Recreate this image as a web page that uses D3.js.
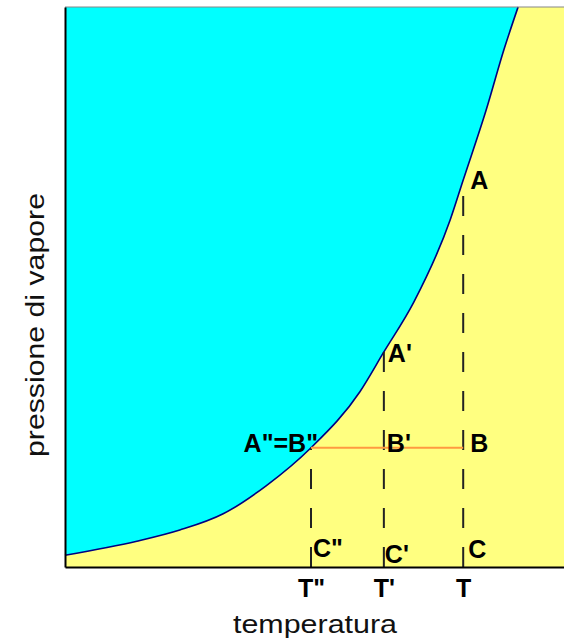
<!DOCTYPE html>
<html>
<head>
<meta charset="utf-8">
<script src="https://cdn.jsdelivr.net/npm/d3@7"></script>
<style>
  html, body { margin: 0; padding: 0; background: #fff; }
  svg { display: block; }
</style>
</head>
<body>
<div id="chart"></div>
<script>
// vapour pressure curve (temperature, pressure) in arbitrary units 0..100
const curveT = [0, 14.4, 23, 31.7, 40.3, 49.3, 59.1, 63.9, 69.9, 77.2, 79.8, 84.4, 88, 90.8];
const curveP = [2.1, 4.6, 6.6, 9.5, 14.5, 21.3, 31.3, 38.4, 47.3, 62, 69.1, 81.6, 92.5, 100];

// the three temperatures marked on the axis
const tickNames = ['T"', "T'", 'T'];
const tickTemps = [49.3, 63.9, 79.8];

// pressure read at each temperature on the curve (A labels) and the common level B
const pointNamesA = ['A"=B"', "A'", 'A'];
const pointPressA = [21.3, 38.4, 69.1];
const pointNamesB = ['', "B'", 'B'];
const levelB = 21.3;
const pointNamesC = ['C"', "C'", 'C'];

const xLabel = 'temperatura';
const yLabel = 'pressione di vapore';

const W = 564, H = 640;
let margin = {top: 7, right: 0, bottom: 73, left: 65};
let width = W - margin.left - margin.right;
let height = H - margin.top - margin.bottom;

let svg = d3.select('#chart')
    .append('svg')
    .attr('width', W)
    .attr('height', H);

let chart = svg.append('g')
    .attr('transform', `translate(${margin.left},${margin.top})`);

let xScale = d3.scaleLinear().domain([0, 100]).range([0, width]);
let yScale = d3.scaleLinear().domain([0, 100]).range([height, 0]);

const curveData = curveT.map((t, i) => ({t: t, p: curveP[i]}));

// yellow liquid region as background
chart.append('rect')
    .attr('x', 0)
    .attr('y', 0)
    .attr('width', width)
    .attr('height', height)
    .attr('fill', '#ffff80');

// cyan region above the curve
let area = d3.area()
    .x(d => xScale(d.t))
    .y0(d => yScale(d.p))
    .y1(yScale(100))
    .curve(d3.curveMonotoneX);

chart.append('path')
    .datum(curveData)
    .attr('fill', '#00ffff')
    .attr('d', area);

let line = d3.line()
    .x(d => xScale(d.t))
    .y(d => yScale(d.p))
    .curve(d3.curveMonotoneX);

chart.append('path')
    .datum(curveData)
    .attr('fill', 'none')
    .attr('stroke', '#000080')
    .attr('stroke-width', 1.6)
    .attr('d', line);

// top border
chart.append('line')
    .attr('x1', 0)
    .attr('x2', width)
    .attr('y1', 0)
    .attr('y2', 0)
    .attr('stroke', '#888')
    .attr('stroke-width', 1.2);

// dashed verticals from axis up to the curve
chart.selectAll('.vline')
    .data(tickTemps)
    .enter()
    .append('line')
    .attr('class', 'vline')
    .attr('x1', d => xScale(d))
    .attr('x2', d => xScale(d))
    .attr('y1', yScale(0))
    .attr('y2', (d, i) => yScale(pointPressA[i]))
    .attr('stroke', '#222')
    .attr('stroke-width', 2)
    .attr('stroke-dasharray', '20,19');

// orange horizontal at the common pressure level
chart.append('line')
    .attr('x1', xScale(tickTemps[0]))
    .attr('x2', xScale(tickTemps[2]))
    .attr('y1', yScale(levelB))
    .attr('y2', yScale(levelB))
    .attr('stroke', '#ff9a40')
    .attr('stroke-width', 2);

// axes
let xAxis = d3.axisBottom(xScale)
    .tickValues(tickTemps)
    .tickFormat((d, i) => tickNames[i])
    .tickSize(0)
    .tickPadding(12);

let gx = chart.append('g')
    .attr('transform', `translate(0,${height})`)
    .call(xAxis);
gx.select('.domain')
    .attr('stroke', '#000')
    .attr('stroke-width', 2);
gx.selectAll('text')
    .attr('font-family', 'Liberation Sans, Arial, sans-serif')
    .attr('font-weight', 'bold')
    .attr('font-size', 25)
    .attr('fill', '#000');

let gy = chart.append('g')
    .call(d3.axisLeft(yScale).ticks(0).tickSize(0));
gy.select('.domain')
    .attr('stroke', '#000')
    .attr('stroke-width', 2);

// point labels
const labelFont = sel => sel
    .attr('font-family', 'Liberation Sans, Arial, sans-serif')
    .attr('font-weight', 'bold')
    .attr('font-size', 25)
    .attr('fill', '#000');

const offA = [{dx: 7, dy: 4, anchor: 'end'}, {dx: 4, dy: 10, anchor: 'start'}, {dx: 7, dy: 9, anchor: 'start'}];
chart.selectAll('.lblA')
    .data(pointNamesA)
    .enter()
    .append('text')
    .attr('class', 'lblA')
    .attr('x', (d, i) => xScale(tickTemps[i]) + offA[i].dx)
    .attr('y', (d, i) => yScale(pointPressA[i]) + offA[i].dy)
    .attr('text-anchor', (d, i) => offA[i].anchor)
    .text(d => d)
    .call(labelFont);

const offB = [0, 3, 7];
chart.selectAll('.lblB')
    .data(pointNamesB)
    .enter()
    .append('text')
    .attr('class', 'lblB')
    .attr('x', (d, i) => xScale(tickTemps[i]) + offB[i])
    .attr('y', yScale(levelB) + 4)
    .text(d => d)
    .call(labelFont);

const offC = [{dx: 2, dy: -10}, {dx: 1, dy: -4}, {dx: 5, dy: -9}];
chart.selectAll('.lblC')
    .data(pointNamesC)
    .enter()
    .append('text')
    .attr('class', 'lblC')
    .attr('x', (d, i) => xScale(tickTemps[i]) + offC[i].dx)
    .attr('y', (d, i) => yScale(0) + offC[i].dy)
    .text(d => d)
    .call(labelFont);

// axis titles
svg.append('text')
    .attr('x', 315)
    .attr('y', 633)
    .attr('text-anchor', 'middle')
    .attr('font-family', 'Liberation Sans, Arial, sans-serif')
    .attr('font-size', 25)
    .attr('textLength', 164)
    .attr('lengthAdjust', 'spacingAndGlyphs')
    .attr('fill', '#111')
    .text(xLabel);

svg.append('text')
    .attr('transform', 'translate(44,325) rotate(-90)')
    .attr('text-anchor', 'middle')
    .attr('font-family', 'Liberation Sans, Arial, sans-serif')
    .attr('font-size', 25)
    .attr('textLength', 264)
    .attr('lengthAdjust', 'spacingAndGlyphs')
    .attr('fill', '#111')
    .text(yLabel);
</script>
</body>
</html>
